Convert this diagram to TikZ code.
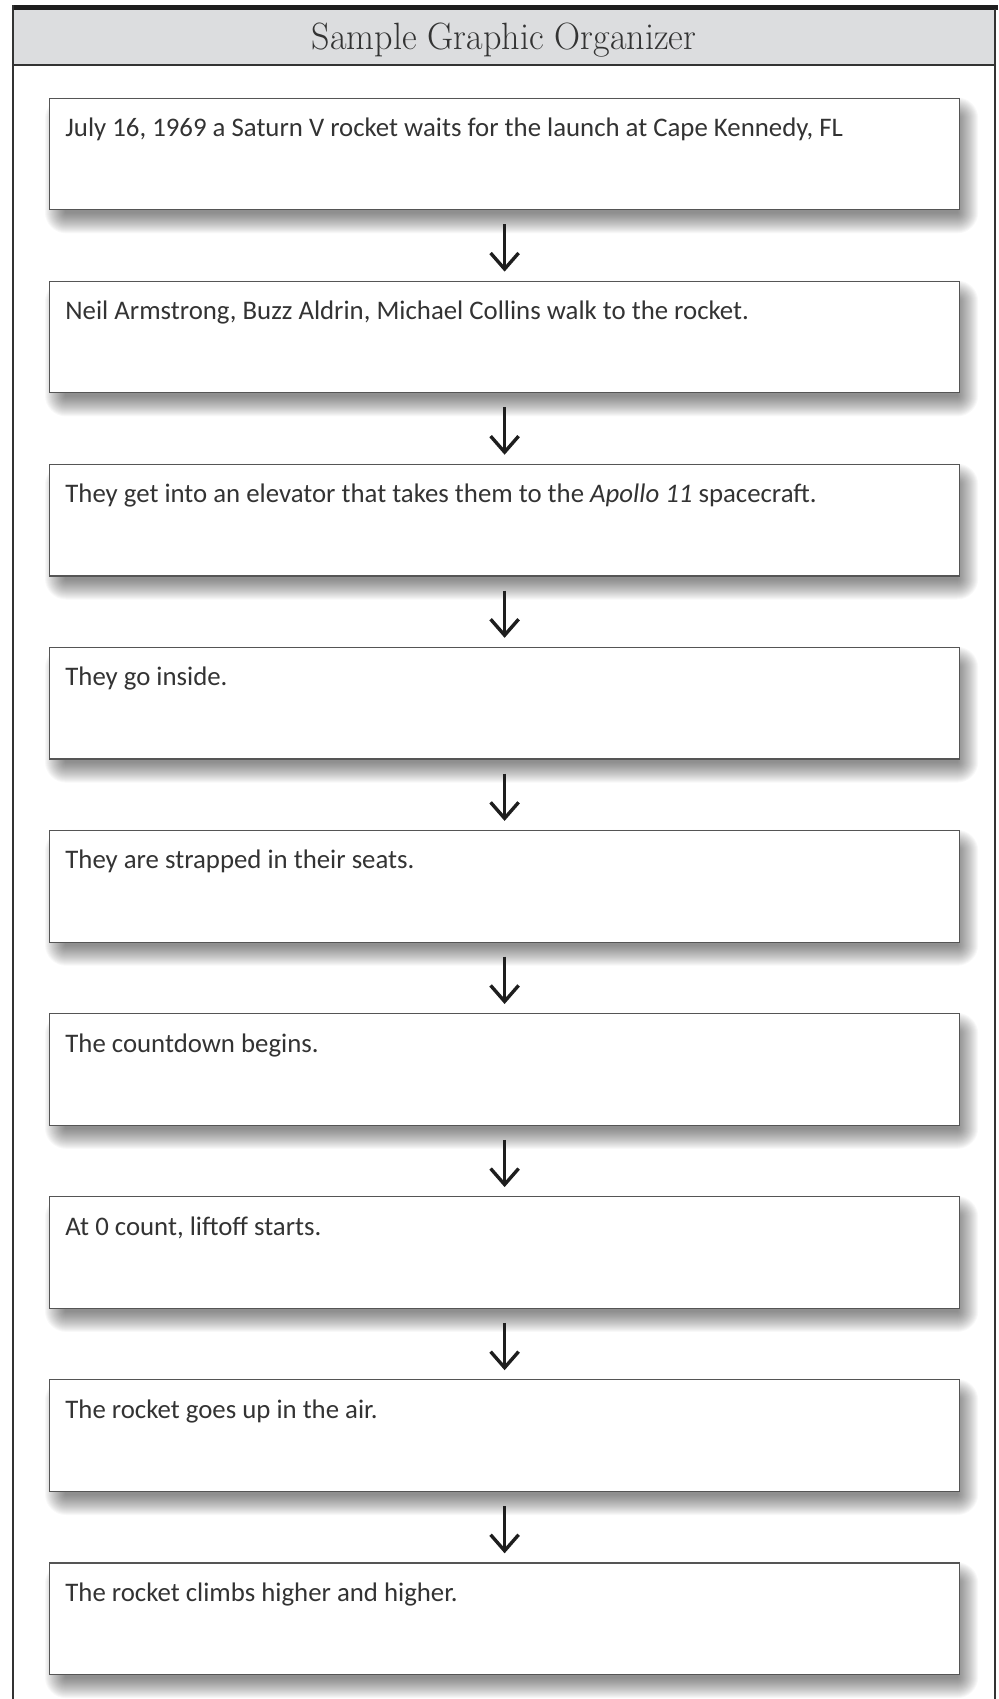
\documentclass[tikz,border=0pt]{standalone}
\usepackage{fontspec}
\setmainfont{Carlito}
\newfontfamily\titlefont{Latin Modern Roman}
\usetikzlibrary{arrows.meta}
\pgfdeclarelayer{background}
\pgfsetlayers{background,main}
\definecolor{hdr}{HTML}{DCDDDF}
\definecolor{frameline}{HTML}{333333}
\definecolor{boxline}{HTML}{555555}
\definecolor{txt}{HTML}{333333}
\definecolor{arrowc}{HTML}{1E1E1E}
\begin{document}
\begin{tikzpicture}[x=0.5pt,y=-0.5pt,
  stepbox/.style={draw=boxline, line width=0.6pt, fill=white,
    minimum width=455pt, minimum height=55.8pt, inner sep=0pt, anchor=north west},
  steptext/.style={anchor=base west, inner sep=0pt, text=txt,
    font=\fontsize{13.4}{16}\selectfont},
  flow/.style={draw=arrowc, line width=1.7pt,
    -{Straight Barb[length=8pt,width=14pt]}, shorten <=7pt, shorten >=4.5pt}]
\useasboundingbox (0,0) rectangle (998,1699);

% header band and page frame
\fill[hdr] (13,9) rectangle (995,65);
\fill[arrowc] (13,5) rectangle (998,9.5);
\draw[frameline, line width=0.6pt] (13,65) -- (995,65);
\draw[frameline, line width=0.6pt] (13,5) -- (13,1699);
\draw[frameline, line width=0.6pt] (995,9) -- (995,1699);
\node[font=\titlefont\fontsize{19}{22}\selectfont, text=txt] (title) at (504,40)
  {\scalebox{0.95}[1]{Sample Graphic Organizer}};

% sequence of steps
\foreach \i/\t in {
  1/{July 16, 1969 a Saturn V rocket waits for the launch at Cape Kennedy, FL},
  2/{Neil Armstrong, Buzz Aldrin, Michael Collins walk to the rocket.},
  3/{They get into an elevator that takes them to the \textit{Apollo 11} spacecraft.},
  4/{They go inside.},
  5/{They are strapped in their seats.},
  6/{The countdown begins.},
  7/{At 0 count, liftoff starts.},
  8/{The rocket goes up in the air.},
  9/{The rocket climbs higher and higher.}}{
  \node[stepbox] (b\i) at (49,{97.5+183.1*(\i-1)}) {};
  \node[steptext] (t\i) at ([shift={(16,39)}]b\i.north west) {\t};
}

% soft drop shadows behind the boxes
\begin{pgfonlayer}{background}
\foreach \i in {1,...,9}{
  \foreach \r in {0,...,20}{
    \fill[black, opacity=0.026, rounded corners={(\r+1)*0.5pt}]
      ([shift={(16-\r,20-\r)}]b\i.north west) rectangle ([shift={(\r-2,3+\r)}]b\i.south east);
  }
}
\end{pgfonlayer}

% arrows between consecutive steps
\foreach \i [evaluate=\i as \j using int(\i+1)] in {1,...,8}{
  \draw[flow] (b\i.south) -- (b\j.north);
}
\end{tikzpicture}
\end{document}
